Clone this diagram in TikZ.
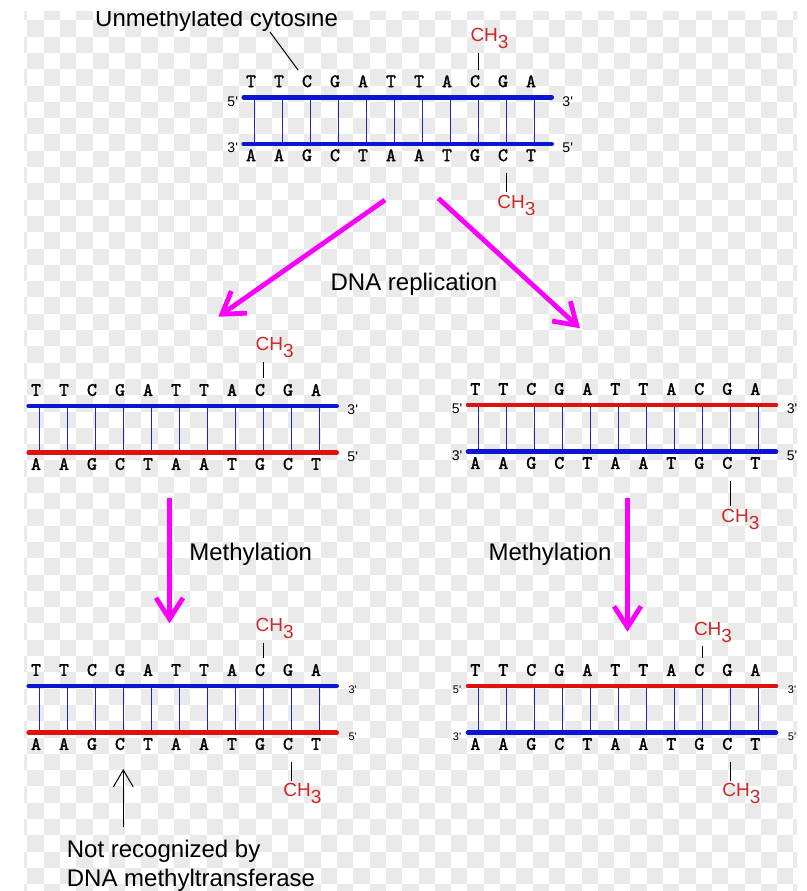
\documentclass[tikz,border=0pt]{standalone}
\usepackage{fontspec}
\setmainfont{Liberation Sans}
\newfontfamily\nucfont{lmmono10-regular}[Extension=.otf, FakeBold=1.6]
\usetikzlibrary{arrows.meta}

\definecolor{strandblue}{RGB}{12,22,210}
\definecolor{strandred}{RGB}{222,16,16}
\definecolor{rungblue}{RGB}{35,35,185}
\definecolor{methylred}{RGB}{205,40,40}
\definecolor{arrowpink}{RGB}{250,0,250}
\definecolor{checker}{RGB}{234,234,234}

\newcommand{\chthree}{CH\raisebox{-7pt}{3}}

% one double strand: name, left x, top strand y, top colour, bottom colour, end label size
\newcommand{\dnapair}[6]{%
  \foreach \i in {0,...,10}
    \draw[rung] ({#2+12.6+28*\i},#3) coordinate (#1-r\i) -- ({#2+12.6+28*\i},#3+46.7) coordinate (#1-s\i);
  \draw[strand, #4] (#2+2,#3) coordinate (#1-tl) -- (#2+310,#3) coordinate (#1-tr);
  \draw[strand, #5] (#2+2,#3+46.7) coordinate (#1-bl) -- (#2+310,#3+46.7) coordinate (#1-br);
  \foreach \b [count=\i from 0] in {T,T,C,G,A,T,T,A,C,G,A}
    \node[nuc] (#1-t\i) at ({#2+9.3+28*\i},#3-16) {\b};
  \foreach \b [count=\i from 0] in {A,A,G,C,T,A,A,T,G,C,T}
    \node[nuc] (#1-b\i) at ({#2+9.3+28*\i},#3+58) {\b};
  \node[endlabel, font=\fontsize{#6}{#6}\selectfont] (#1-e1) at (#2-9,#3+4) {5\textquotesingle};
  \node[endlabel, font=\fontsize{#6}{#6}\selectfont] (#1-e2) at (#2+326,#3+4) {3\textquotesingle};
  \node[endlabel, font=\fontsize{#6}{#6}\selectfont] (#1-e3) at (#2-9,#3+50.7) {3\textquotesingle};
  \node[endlabel, font=\fontsize{#6}{#6}\selectfont] (#1-e4) at (#2+326,#3+50.7) {5\textquotesingle};
}

\begin{document}
\begin{tikzpicture}[
    x=1pt,
    y=-1pt,
    strand/.style={line width=4.6pt, line cap=round},
    rung/.style={rungblue, line width=1.5pt},
    nuc/.style={font=\nucfont\fontsize{19}{19}\selectfont, inner sep=0pt},
    endlabel/.style={inner sep=0pt},
    methyl/.style={methylred, font=\fontsize{19}{19}\selectfont, inner sep=0.5pt, anchor=base west},
    tick/.style={line width=1.2pt},
    caption/.style={font=\fontsize{24}{29}\selectfont, inner sep=0pt},
    flow/.style={arrowpink, line width=4.8pt, -{Straight Barb[length=21pt,width=27pt]}},
    pointer/.style={line width=1pt}
    ]
    \useasboundingbox (0,0) rectangle (806,891);
    \fill[white] (0,0) rectangle (806,891);

    \begin{scope}
    \clip (24,12) rectangle (797,891);

    % checker background
    \foreach \i in {0,...,48}
      \foreach \j in {0,...,54}
        {\ifodd\numexpr\i+\j\relax\else
           \fill[checker] ({11+16.3*\i},{4+16.3*\j}) rectangle ++(16.3,16.3);
         \fi}

    % the five double strands
    \dnapair{tA}{241.7}{97.3}{strandblue}{strandblue}{14}
    \dnapair{mL}{26.7}{406}{strandblue}{strandred}{14}
    \dnapair{mR}{466}{405}{strandred}{strandblue}{14}
    \dnapair{bL}{26.7}{686}{strandblue}{strandred}{11}
    \dnapair{bR}{466}{686}{strandred}{strandblue}{11}

    % methyl groups
    \node[methyl] (tA-m1) at (469.8,41.7) {\chthree};
    \node[methyl] (tA-m2) at (496.7,208.3) {\chthree};
    \node[methyl] (mL-m1) at (255,350.7) {\chthree};
    \node[methyl] (mR-m2) at (720.7,522) {\chthree};
    \node[methyl] (bL-m1) at (255,631.7) {\chthree};
    \node[methyl] (bL-m2) at (282.7,796.7) {\chthree};
    \node[methyl] (bR-m1) at (693.3,635) {\chthree};
    \node[methyl] (bR-m2) at (721.7,796.7) {\chthree};

    \draw[tick, shorten <=3.5pt, shorten >=5.5pt] (tA-m1.south -| tA-r8) -- (tA-t8.north -| tA-r8);
    \draw[tick, shorten <=2pt, shorten >=11.5pt] (tA-m2.north -| tA-r9) -- (tA-b9.south -| tA-r9);
    \draw[tick, shorten <=3.5pt, shorten >=5.5pt] (mL-m1.south -| mL-r8) -- (mL-t8.north -| mL-r8);
    \draw[tick, shorten <=2pt, shorten >=11.5pt] (mR-m2.north -| mR-r9) -- (mR-b9.south -| mR-r9);
    \draw[tick, shorten <=3.5pt, shorten >=5.5pt] (bL-m1.south -| bL-r8) -- (bL-t8.north -| bL-r8);
    \draw[tick, shorten <=2pt, shorten >=11.5pt] (bL-m2.north -| bL-r9) -- (bL-b9.south -| bL-r9);
    \draw[tick, shorten <=3.5pt, shorten >=5.5pt] (bR-m1.south -| bR-r8) -- (bR-t8.north -| bR-r8);
    \draw[tick, shorten <=2pt, shorten >=11.5pt] (bR-m2.north -| bR-r9) -- (bR-b9.south -| bR-r9);

    % labels
    \node[caption, anchor=base west] (uc) at (95,27) {Unmethylated cytosine};
    \coordinate (uc-tail) at (270,32);
    \draw[pointer, shorten >=6pt] (uc-tail) -- (tA-t2.north west);

    \node[caption, anchor=base] (rep) at (414,290) {DNA replication};
    \node[caption, anchor=base] (meth-l) at (250.7,560) {Methylation};
    \node[caption, anchor=base] (meth-r) at (550,560) {Methylation};

    \node[caption, align=left, anchor=north west] (nr) at (66.7,840)
      {Not recognized by\\DNA methyltransferase};
    \draw[pointer, -{Straight Barb[length=17pt,width=20pt]}, shorten <=13pt, shorten >=18.8pt]
      (nr.north -| bL-r3) -- (bL-b3.south -| bL-r3);

    % process arrows
    \coordinate (rep-l1) at (385,200);
    \coordinate (rep-l2) at (218.3,316.7);
    \coordinate (rep-r1) at (438.3,198.3);
    \coordinate (rep-r2) at (580,328.3);
    \coordinate (meth-l1) at (169.5,498.3);
    \coordinate (meth-l2) at (169.5,623.3);
    \coordinate (meth-r1) at (627.5,498.3);
    \coordinate (meth-r2) at (627.5,631.7);
    \draw[flow] (rep-l1) -- (rep-l2);
    \draw[flow] (rep-r1) -- (rep-r2);
    \draw[flow] (meth-l1) -- (meth-l2);
    \draw[flow] (meth-r1) -- (meth-r2);
    \end{scope}
\end{tikzpicture}
\end{document}
